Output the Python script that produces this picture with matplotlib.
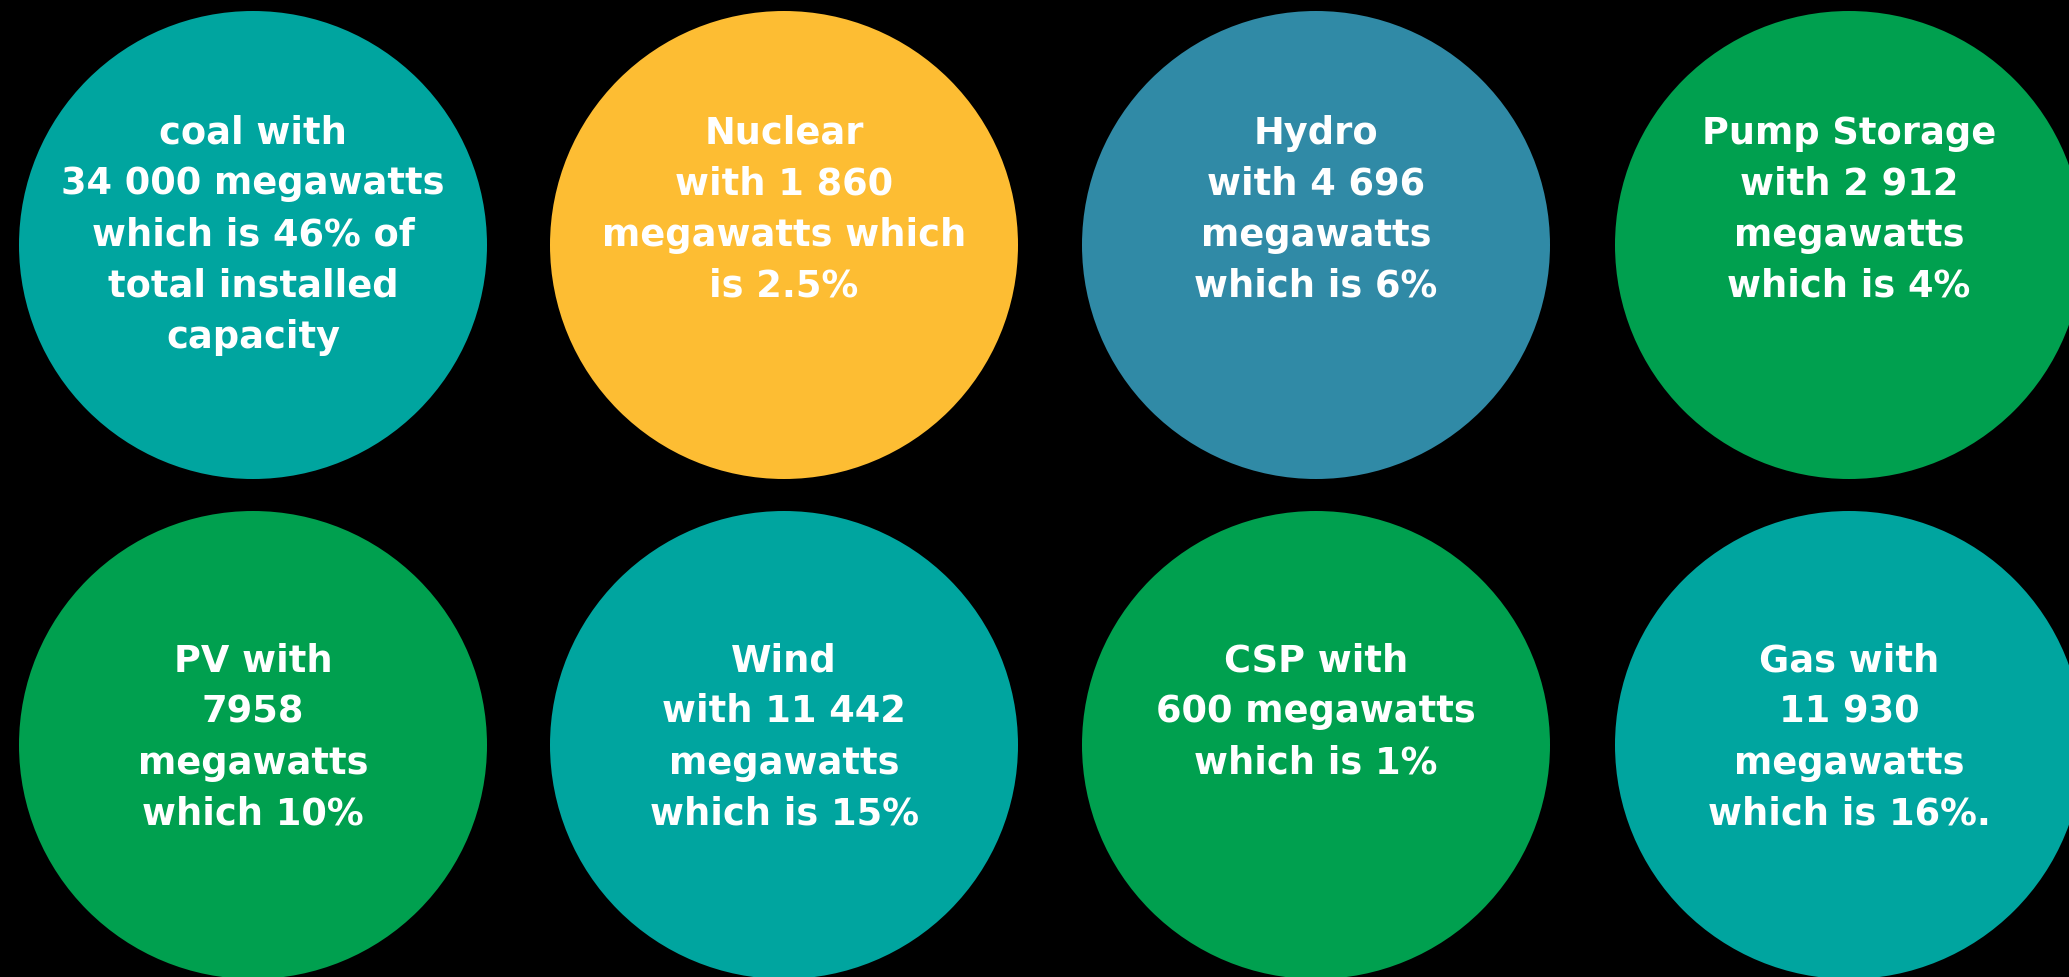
import matplotlib
matplotlib.use("Agg")
import matplotlib.pyplot as plt
from matplotlib.patches import Circle

# circle captions, read row by row (left to right)
sources = ["Coal", "Nuclear", "Hydro", "Pump Storage",
           "PV", "Wind", "CSP", "Gas"]
captions = [
    ["coal with", "34 000 megawatts", "which is 46% of", "total installed", "capacity"],
    ["Nuclear", "with 1 860", "megawatts which", "is 2.5%"],
    ["Hydro", "with 4 696", "megawatts", "which is 6%"],
    ["Pump Storage", "with 2 912", "megawatts", "which is 4%"],
    ["PV with", "7958", "megawatts", "which 10%"],
    ["Wind", "with 11 442", "megawatts", "which is 15%"],
    ["CSP with", "600 megawatts", "which is 1%"],
    ["Gas with", "11 930", "megawatts", "which is 16%."],
]

TEAL = "#00A59F"
YELLOW = "#FDBD33"
BLUE = "#308AA6"
GREEN = "#00A04F"
colors = [TEAL, YELLOW, BLUE, GREEN, GREEN, TEAL, GREEN, TEAL]

W, H = 2069, 978
fig = plt.figure(figsize=(W / 100, H / 100), dpi=100)
fig.patch.set_facecolor("black")
ax = fig.add_axes([0, 0, 1, 1])
ax.set_xlim(0, W)
ax.set_ylim(H, 0)
ax.set_aspect("equal")
ax.axis("off")
ax.set_facecolor("black")

col_x = [253, 784, 1316, 1849]
row_y = [246, 746]
first_line = [133, 661]
radius = 234
step = 51

for i, (lines, c) in enumerate(zip(captions, colors)):
    r, k = divmod(i, 4)
    cx, cy = col_x[k], row_y[r]
    ax.add_patch(Circle((cx, cy), radius, facecolor=c, edgecolor="none"))
    for j, line in enumerate(lines):
        ax.text(cx, first_line[r] + j * step, line, ha="center", va="center",
                color="white", fontsize=26.5, fontweight="bold",
                family=["DejaVu Sans"])

fig.savefig("out.png", dpi=100, facecolor="black")
